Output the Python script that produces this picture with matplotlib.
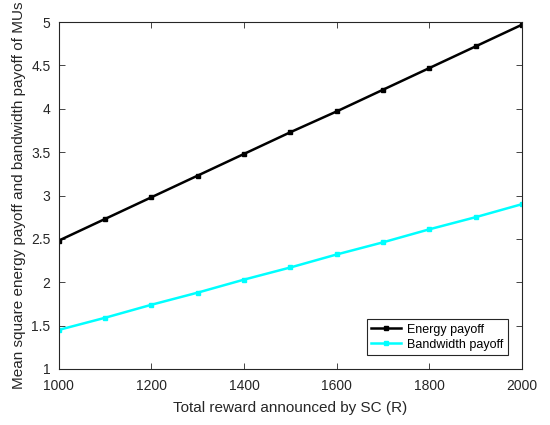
import matplotlib
matplotlib.use("Agg")
import matplotlib.pyplot as plt

plt.rcParams['font.family'] = ['Liberation Sans', 'DejaVu Sans']

reward = [1000, 1100, 1200, 1300, 1400, 1500, 1600, 1700, 1800, 1900, 2000]
energy = [2.48, 2.73, 2.98, 3.23, 3.48, 3.73, 3.97, 4.22, 4.47, 4.72, 4.97]
bandwidth = [1.45, 1.59, 1.74, 1.88, 2.03, 2.17, 2.32, 2.46, 2.61, 2.75, 2.90]

fig = plt.figure(figsize=(5.5, 4.25), dpi=100)
ax = fig.add_axes([0.107, 0.132, 0.842, 0.816])

ax.plot(reward, energy, color='black', marker='s', markersize=3.5, linewidth=1.8, label='Energy payoff')
ax.plot(reward, bandwidth, color='cyan', marker='s', markersize=3.5, linewidth=1.8, label='Bandwidth payoff')

ax.set_xlim(1000, 2000)
ax.set_ylim(1, 5)
ax.set_xticks([1000, 1200, 1400, 1600, 1800, 2000])
ax.set_yticks([1, 1.5, 2, 2.5, 3, 3.5, 4, 4.5, 5])
ax.set_yticklabels(['1', '1.5', '2', '2.5', '3', '3.5', '4', '4.5', '5'])
ax.tick_params(direction='in', length=4, width=0.6, labelsize=10, colors='#262626', top=True, right=True)
ax.tick_params(axis='x', pad=7)
ax.tick_params(axis='y', pad=6)
for s in ax.spines.values():
    s.set_linewidth(0.8)
    s.set_color('#262626')

ax.set_xlabel('Total reward announced by SC (R)', fontsize=11, color='#262626', labelpad=6)
ax.set_ylabel('Mean square energy payoff and bandwidth payoff of MUs', fontsize=11, color='#262626', labelpad=4)

leg = ax.legend(loc='lower right', fontsize=9, fancybox=False, edgecolor='#262626',
                framealpha=1, borderpad=0.35, handlelength=2.4, handletextpad=0.5, labelspacing=0.25,
                bbox_to_anchor=(0.983, 0.022))
leg.get_frame().set_linewidth(0.8)

fig.savefig('out.png', dpi=100)
